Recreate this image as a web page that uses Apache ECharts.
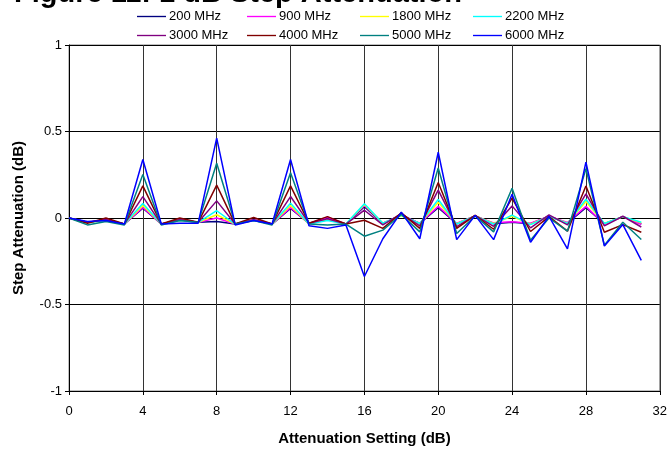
<!DOCTYPE html>
<html>
<head>
<meta charset="utf-8">
<script src="https://cdn.jsdelivr.net/npm/echarts@6/dist/echarts.min.js"></script>
<style>
html,body{margin:0;padding:0;background:#fff;}
#chart{width:670px;height:451px;}
</style>
</head>
<body>
<div id="chart"></div>
<script>
const steps = [0,1,2,3,4,5,6,7,8,9,10,11,12,13,14,15,16,17,18,19,20,21,22,23,24,25,26,27,28,29,30,31];
const seriesNames = ['200 MHz','900 MHz','1800 MHz','2200 MHz','3000 MHz','4000 MHz','5000 MHz','6000 MHz'];
const seriesColors = ['#000080','#FF00FF','#FFFF00','#00FFFF','#800080','#800000','#008080','#0000FF'];
const xTicks = [0,4,8,12,16,20,24,28,32];
const yTicks = [-1,-0.5,0,0.5,1];

const mhz200 = [0,-0.025,-0.012,-0.035,0.057,-0.035,-0.012,-0.025,-0.02,-0.035,-0.012,-0.035,0.055,-0.032,-0.002,-0.035,0.065,-0.032,0.018,-0.032,0.06,-0.033,0.012,-0.033,-0.025,-0.033,0.01,-0.03,0.06,-0.033,0.008,-0.035];
const mhz900 = [0,-0.025,-0.01,-0.035,0.061,-0.035,-0.012,-0.025,0.0,-0.035,-0.012,-0.035,0.06,-0.032,0.004,-0.035,0.072,-0.03,0.015,-0.03,0.067,-0.03,0.012,-0.028,-0.021,-0.03,0.01,-0.026,0.067,-0.036,0.008,-0.036];
const mhz1800 = [0,-0.025,-0.014,-0.035,0.072,-0.035,-0.014,-0.025,0.019,-0.035,-0.014,-0.035,0.072,-0.034,-0.01,-0.035,0.078,-0.03,0.012,-0.032,0.091,-0.033,0.012,-0.032,0.01,-0.036,0.01,-0.03,0.095,-0.032,0.007,-0.028];
const mhz2200 = [0,-0.025,-0.015,-0.035,0.084,-0.035,-0.015,-0.025,0.042,-0.035,-0.015,-0.035,0.085,-0.035,-0.015,-0.035,0.082,-0.03,0.015,-0.032,0.107,-0.035,0.012,-0.035,0.017,-0.038,0.01,-0.032,0.108,-0.032,0.008,-0.025];
const mhz3000 = [0,-0.025,-0.01,-0.035,0.124,-0.035,-0.01,-0.025,0.099,-0.035,-0.01,-0.035,0.124,-0.03,-0.005,-0.035,0.045,-0.04,0.025,-0.045,0.161,-0.05,0.015,-0.048,0.07,-0.057,0.018,-0.04,0.14,-0.046,0.01,-0.052];
const mhz4000 = [0,-0.03,0.0,-0.035,0.186,-0.035,0.0,-0.025,0.19,-0.035,0.003,-0.035,0.186,-0.03,0.008,-0.035,-0.013,-0.06,0.03,-0.06,0.205,-0.06,0.015,-0.065,0.115,-0.078,0.008,-0.076,0.185,-0.082,-0.038,-0.082];
const mhz5000 = [0,-0.04,-0.02,-0.04,0.251,-0.04,-0.015,-0.025,0.317,-0.035,-0.015,-0.04,0.262,-0.035,-0.04,-0.035,-0.105,-0.07,0.02,-0.08,0.289,-0.09,0.012,-0.08,0.172,-0.128,0.0,-0.076,0.285,-0.158,-0.025,-0.124];
const mhz6000 = [0,-0.02,-0.015,-0.035,0.338,-0.035,-0.03,-0.03,0.462,-0.04,-0.015,-0.035,0.338,-0.045,-0.06,-0.04,-0.338,-0.12,0.034,-0.12,0.38,-0.125,0.015,-0.125,0.137,-0.14,0.01,-0.178,0.323,-0.162,-0.038,-0.245];

const allValues = [mhz200,mhz900,mhz1800,mhz2200,mhz3000,mhz4000,mhz5000,mhz6000];

const chart = echarts.init(document.getElementById('chart'), null, {renderer:'canvas'});
const font = 'Arial, "Liberation Sans", sans-serif';

const series = allValues.map((vals, i) => ({
  name: seriesNames[i],
  type: 'line',
  data: steps.map((s, j) => [s, vals[j]]),
  symbol: 'none',
  lineStyle: {color: seriesColors[i], width: 1.5},
  itemStyle: {color: seriesColors[i]},
  animation: false,
  z: 3 + i
}));

const legendLefts = [137, 247, 360, 473];
const legendTops = [10, 29];
const legends = seriesNames.map((name, i) => ({
  left: legendLefts[i % 4],
  top: legendTops[Math.floor(i / 4)],
  orient: 'horizontal',
  itemWidth: 29,
  itemHeight: 12,
  padding: 0,
  icon: 'path://M0,6 L28,6 L28,7.3 L0,7.3 Z',
  textStyle: {fontFamily: font, fontSize: 13, color: '#000', padding: [0,0,0,-2]},
  selectedMode: false,
  data: [name]
}));

chart.setOption({
  backgroundColor: '#fff',
  animation: false,
  title: {
    text: 'Figure 11: 1 dB Step Attenuation',
    left: 14,
    top: -21,
    padding: 0,
    textStyle: {fontFamily: font, fontSize: 29, fontWeight: 'bold', color: '#000'}
  },
  legend: legends,
  grid: {left: 69, right: 10, top: 45, bottom: 57.5, show: true, borderColor: '#808080', borderWidth: 1},
  xAxis: {
    type: 'value',
    min: xTicks[0],
    max: xTicks[xTicks.length-1],
    interval: 4,
    name: 'Attenuation Setting (dB)',
    nameLocation: 'middle',
    nameGap: 40,
    nameTextStyle: {fontFamily: font, fontSize: 15, fontWeight: 'bold', color: '#000'},
    axisLine: {show: true, onZero: false, lineStyle: {color: '#000', width: 1}},
    axisTick: {show: true, inside: false, length: 4, lineStyle: {color: '#000'}},
    axisLabel: {fontFamily: font, fontSize: 13, color: '#000', margin: 14},
    splitLine: {show: true, lineStyle: {color: '#333', width: 1}}
  },
  yAxis: {
    type: 'value',
    min: yTicks[0],
    max: yTicks[yTicks.length-1],
    interval: 0.5,
    name: 'Step Attenuation (dB)',
    nameLocation: 'middle',
    nameGap: 43,
    nameTextStyle: {fontFamily: font, fontSize: 15, fontWeight: 'bold', color: '#000'},
    axisLine: {show: true, onZero: false, lineStyle: {color: '#000', width: 1}},
    axisTick: {show: true, inside: false, length: 4, lineStyle: {color: '#000'}},
    axisLabel: {fontFamily: font, fontSize: 13, color: '#000', margin: 7,
      formatter: v => String(v)},
    splitLine: {show: true, lineStyle: {color: '#000', width: 1}}
  },
  series: series
});
</script>
</body>
</html>
